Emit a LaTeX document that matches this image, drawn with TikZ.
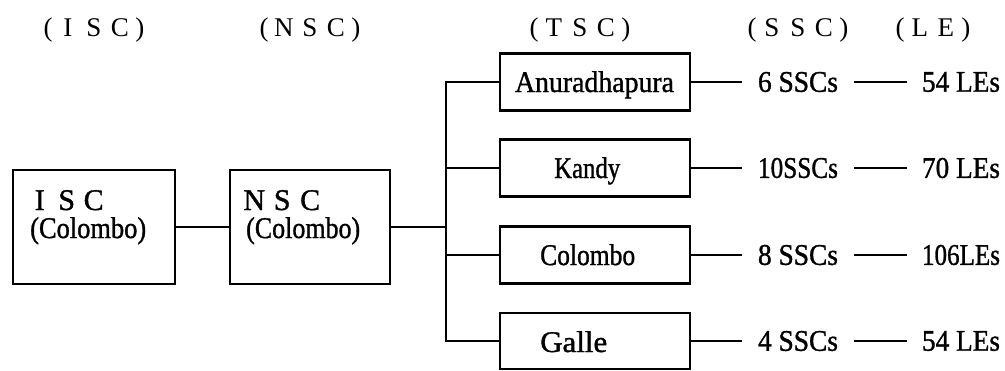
\documentclass[tikz,border=0pt]{standalone}
\usepackage{fontspec}
\setmainfont{Liberation Serif}[FakeBold=1.2]
\newfontfamily\hdrfont{Liberation Serif}
\usepackage{graphicx}
\newcommand{\tw}[2]{\resizebox{#1pt}{\height}{#2}}
\newcommand{\fc}[2]{\makebox[#1pt][c]{#2}}
\tikzset{
  box/.style={draw, line width=2.8pt, inner sep=0pt},
  lnk/.style={line width=1.3pt},
  txt/.style={font=\fontsize{30}{33}\selectfont, inner sep=0pt},
  hdr/.style={font=\hdrfont\fontsize{27}{30}\selectfont, inner sep=0pt, anchor=base},
  lbl/.style={txt, inner xsep=16pt},
}
\begin{document}
\begin{tikzpicture}[x=1pt,y=-1pt]
\useasboundingbox[fill=white] (0,0) rectangle (1005,370);

% headers
\node[hdr] (hISC) at (94,36) {\fc{14}{(}\fc{26}{I}\fc{26}{S}\fc{26}{C}\fc{14}{)}};
\node[hdr] (hNSC) at (310,36) {\fc{14}{(}\fc{26}{N}\fc{26}{S}\fc{26}{C}\fc{14}{)}};
\node[hdr] (hTSC) at (580,36) {\fc{14}{(}\fc{26}{T}\fc{26}{S}\fc{26}{C}\fc{14}{)}};
\node[hdr] (hSSC) at (798,36) {\fc{14}{(}\fc{26}{S}\fc{26}{S}\fc{26}{C}\fc{14}{)}};
\node[hdr] (hLE) at (933,36) {\fc{14}{(}\fc{26}{L}\fc{26}{E}\fc{14}{)}};

% ISC / NSC boxes
\node[box, minimum width=162pt, minimum height=114pt] (isc) at (94,227) {};
\node[box, minimum width=160pt, minimum height=114pt] (nsc) at (310,227) {};
\node[txt, anchor=base west] (iscA) at (26,210) {\fc{27}{I}\fc{27}{S}\fc{27}{C}};
\node[txt, anchor=base west] (iscB) at (30,238) {\tw{116}{(Colombo)}};
\node[txt, anchor=base west] (nscA) at (240,210) {\fc{28}{N}\fc{28}{S}\fc{28}{C}};
\node[txt, anchor=base west] (nscB) at (246,238) {\tw{114}{(Colombo)}};

% TSC boxes
\node[box, minimum width=190pt, minimum height=57pt] (anur) at (595,82) {};
\node[box, minimum width=190pt, minimum height=57pt] (kandy) at (595,168) {};
\node[box, minimum width=190pt, minimum height=57pt] (colo) at (595,255) {};
\node[box, minimum width=190pt, minimum height=56pt] (galle) at (595,341) {};
\node[txt, anchor=base] (anurT) at (594.5,92) {\tw{159}{Anuradhapura}};
\node[txt, anchor=base west] (kandyT) at (554,178) {\tw{66}{Kandy}};
\node[txt, anchor=base west] (coloT) at (540,265) {\tw{95}{Colombo}};
\node[txt, anchor=base west] (galleT) at (540,352) {\tw{67}{Galle}};

% SSC and LE labels
\node[lbl] (s1) at (798,82) {\tw{80}{6 SSCs}};
\node[lbl] (s2) at (798,168) {\tw{80}{10SSCs}};
\node[lbl] (s3) at (798,255) {\tw{80}{8 SSCs}};
\node[lbl] (s4) at (798,341) {\tw{80}{4 SSCs}};
\node[lbl, inner xsep=15pt] (l1) at (961,82) {\tw{78}{54 LEs}};
\node[lbl, inner xsep=15pt] (l2) at (961,168) {\tw{78}{70 LEs}};
\node[lbl, inner xsep=15pt] (l3) at (961,255) {\tw{78}{106LEs}};
\node[lbl, inner xsep=15pt] (l4) at (961,341) {\tw{78}{54 LEs}};

% connectors
\coordinate (bus) at (446,227);
\draw[lnk] (isc) -- (nsc);
\draw[lnk] (nsc.east) -- (bus);
\draw[lnk] (bus) |- (anur.west);
\draw[lnk] (bus) |- (kandy.west);
\draw[lnk] (bus) |- (colo.west);
\draw[lnk] (bus) |- (galle.west);
\foreach \b/\s/\l in {anur/s1/l1, kandy/s2/l2, colo/s3/l3, galle/s4/l4}{
  \draw[lnk] (\b) -- (\s);
  \draw[lnk] (\s) -- (\l);
}
\end{tikzpicture}
\end{document}
